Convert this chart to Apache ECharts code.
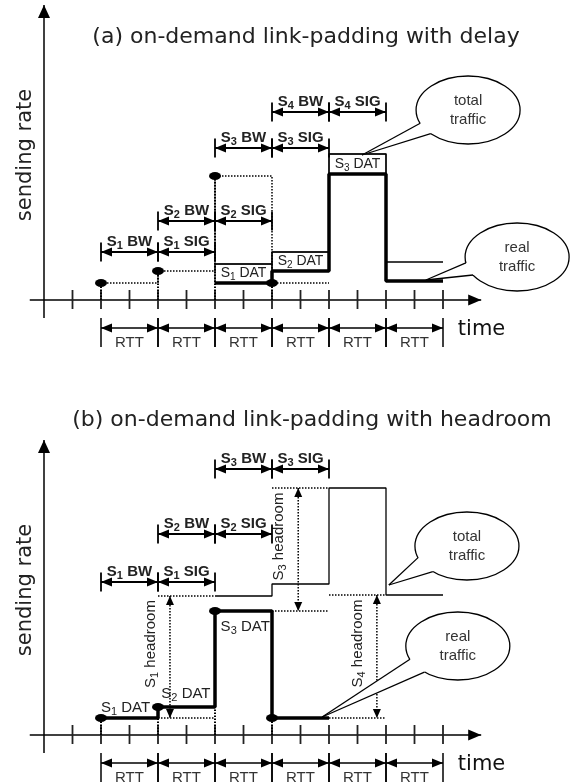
<!DOCTYPE html>
<html>
<head>
<meta charset="utf-8">
<title>On-demand link-padding</title>
<script src="https://cdn.jsdelivr.net/npm/echarts@6/dist/echarts.min.js"></script>
<style>html,body{margin:0;background:#fff}</style>
</head>
<body>
<div id="chart" style="width:575px;height:782px;"></div>
<script>
const FONT = 'Liberation Sans';
const BIG_FONT = '"DejaVu Sans"';

// time in RTT units, rate in arbitrary units (0 = time axis)
const tickT = [0.5, 1, 1.5, 2, 2.5, 3, 3.5, 4, 4.5, 5, 5.5, 6, 6.5, 7];
const rttT = [1, 2, 3, 4, 5, 6, 7];

// (a) link-padding with delay
const aReqT = [1, 2, 3, 4, 5];
const aReqRate = [1.7, 2.9, 12.4, 1.7, 1.7];
const aSendT = [3, 4, 5, 6, 7];
const aReal = [1.7, 2.9, 12.6, 1.9, 1.9];
const aTotal = [3.6, 4.8, 14.6, 3.8, 3.8];
const aDatNames = ['S1 DAT', 'S2 DAT', 'S3 DAT'];
const aPhaseNames = ['S1 BW', 'S1 SIG', 'S2 BW', 'S2 SIG', 'S3 BW', 'S3 SIG', 'S4 BW', 'S4 SIG'];
const aPhaseFrom = [1, 2, 2, 3, 3, 4, 4, 5];
const aPhaseTo = [2, 3, 3, 4, 4, 5, 5, 6];
const aPhaseLevel = [4.8, 4.8, 7.9, 7.9, 15.2, 15.2, 18.8, 18.8];

// (b) link-padding with headroom
const bSendT = [1, 2, 3, 4, 5];
const bReal = [1.7, 2.8, 12.4, 1.7, 1.7];
const bTotalT = [3, 4, 5, 6, 7];
const bTotal = [13.9, 15.1, 24.7, 14.0, 14.0];
const bDatNames = ['S1 DAT', 'S2 DAT', 'S3 DAT'];
const bPhaseNames = ['S1 BW', 'S1 SIG', 'S2 BW', 'S2 SIG', 'S3 BW', 'S3 SIG'];
const bPhaseFrom = [1, 2, 2, 3, 3, 4];
const bPhaseTo = [2, 3, 3, 4, 4, 5];
const bPhaseLevel = [15.3, 15.3, 20.1, 20.1, 26.6, 26.6];
const bHeadNames = ['S1 headroom', 'S3 headroom', 'S4 headroom'];
const bHeadFrom = [2, 4, 5];
const bHeadLow = [1.7, 12.4, 1.7];
const bHeadHigh = [13.9, 24.7, 14.0];
const bHeadAt = [2.21, 4.46, 5.84];

// callouts: ellipse centre (t, rate) and tip (t, rate)
const calloutNames = [['total', 'traffic'], ['real', 'traffic']];
const aCallouts = [[7.44, 19.0, 5.58, 14.5], [8.3, 4.3, 6.7, 2.0]];
const bCallouts = [[7.42, 18.9, 6.05, 15.0], [7.26, 8.9, 4.88, 1.8]];
// attachment angles of the tail on the ellipse (degrees)
const aCallAng = [[157, 136], [170, 148]];
const bCallAng = [[160, 131], [157, 130]];
// where the (b) DAT labels sit
const bDatAt = [[1, 2.7, 'left'], [2.49, 4.1, 'center'], [3.53, 10.8, 'center']];

const BLACK = '#000';
const dotted = {stroke: BLACK, lineWidth: 1.5, lineDash: [1.5, 1.5]};

function sub(label) {
  return label.replace(/^S(\d)(.*)$/, '{m|S}{s|$1}{m|$2}');
}
function rich(size, weight, color) {
  return {
    m: {fontSize: size, fontFamily: FONT, fontWeight: weight, color: color},
    s: {fontSize: size - 4, fontFamily: FONT, fontWeight: weight, color: color, padding: [8, 0, 0, 0]}
  };
}
function line(p, q, style) {
  return {type: 'line', shape: {x1: p[0], y1: p[1], x2: q[0], y2: q[1]}, style: style};
}
function head(from, to, len, half) {
  const dx = to[0] - from[0], dy = to[1] - from[1], d = Math.hypot(dx, dy) || 1;
  const ux = dx / d, uy = dy / d, bx = to[0] - ux * len, by = to[1] - uy * len;
  return {type: 'polygon', shape: {points: [[to[0], to[1]], [bx - uy * half, by + ux * half], [bx + uy * half, by - ux * half]]}, style: {fill: BLACK}};
}
function label(x, y, str, opts) {
  return {type: 'text', x: x, y: y, rotation: opts.rotation || 0, style: {
    text: str, fill: opts.color || '#222', fontSize: opts.size || 15, fontFamily: opts.family || FONT,
    fontWeight: opts.weight || 'normal', align: opts.align || 'center', verticalAlign: 'middle',
    rich: opts.rich
  }};
}
function custom(grid, data, draw, z) {
  return {
    type: 'custom', xAxisIndex: grid, yAxisIndex: grid, data: data, z: z || 3,
    silent: true, animation: false,
    renderItem: function (params, api) {
      return {type: 'group', children: draw(api, params.dataIndex)};
    }
  };
}

// axes with arrows, plus the "time" name
function drawAxes(api) {
  const xs = api.coord([-0.25, 0]), xe = api.coord([7.67, 0]);
  const yb = api.coord([0, -1.8]), yt = api.coord([0, 29.5]);
  const tl = api.coord([7.26, -3.0]);
  return [
    line(xs, xe, {stroke: BLACK, lineWidth: 1.5}), head(xs, xe, 13, 5.5),
    line(yb, yt, {stroke: BLACK, lineWidth: 1.5}), head(yb, yt, 13, 6),
    label(tl[0], tl[1], 'time', {size: 21, family: 'DejaVu Sans', align: 'left', color: '#111'})
  ];
}
function drawTick(api) {
  const t = api.value(0);
  return [line(api.coord([t, -0.9]), api.coord([t, 1.0]), {stroke: '#222', lineWidth: 1.8})];
}
function drawRtt(api) {
  const t0 = api.value(0), t1 = api.value(1);
  const p = api.coord([t0, -2.8]), q = api.coord([t1, -2.8]);
  const lb = api.coord([(t0 + t1) / 2, -4.3]);
  return [
    line(p, q, {stroke: BLACK, lineWidth: 1.5}), head(q, p, 11, 4.5), head(p, q, 11, 4.5),
    line(api.coord([t0, -1.8]), api.coord([t0, -4.7]), {stroke: BLACK, lineWidth: 1.5}),
    line(api.coord([t1, -1.8]), api.coord([t1, -4.7]), {stroke: BLACK, lineWidth: 1.5}),
    label(lb[0], lb[1], 'RTT', {size: 15, color: '#333'})
  ];
}
function phaseDrawer(names) {
  return function (api, i) {
    const lv = api.value(2);
    const p = api.coord([api.value(0), lv]), q = api.coord([api.value(1), lv]);
    return [
      line(p, q, {stroke: BLACK, lineWidth: 2}), head(q, p, 11, 4.5), head(p, q, 11, 4.5),
      line([p[0], p[1] - 9.5], [p[0], p[1] + 9.5], {stroke: BLACK, lineWidth: 1.8}),
      line([q[0], q[1] - 9.5], [q[0], q[1] + 9.5], {stroke: BLACK, lineWidth: 1.8}),
      label((p[0] + q[0]) / 2, p[1] - 10, sub(names[i]), {rich: rich(15, 'bold', '#111')})
    ];
  };
}
function drawABox(api, i) {
  const a = api.coord([api.value(0), api.value(3)]), b = api.coord([api.value(1), api.value(2)]);
  return [
    {type: 'rect', shape: {x: a[0], y: a[1], width: b[0] - a[0], height: b[1] - a[1]}, style: {fill: 'none', stroke: BLACK, lineWidth: 1.2}},
    label((a[0] + b[0]) / 2, (a[1] + b[1]) / 2, sub(aDatNames[i]), {rich: rich(14, 'normal', '#333')})
  ];
}
function drawBDat(api, i) {
  const p = api.coord([api.value(0), api.value(1)]);
  return [label(p[0], p[1], sub(bDatNames[i]), {align: bDatAt[i][2], rich: rich(15, 'normal', '#222')})];
}
function drawDrop(api) {
  const t = api.value(0);
  return [line(api.coord([t, 0]), api.coord([t, api.value(1)]), {stroke: BLACK, lineWidth: 2, lineDash: [1.5, 1.5]})];
}
function drawHeadroom(api, i) {
  const s = api.value(0), lo = api.value(1), hi = api.value(2), at = api.value(3);
  const top = api.coord([at, hi]), bot = api.coord([at, lo]);
  const mid = (top[1] + bot[1]) / 2;
  return [
    line(api.coord([s, hi]), api.coord([s + 1, hi]), dotted),
    line(api.coord([s, lo]), api.coord([s + 1, lo]), dotted),
    line(top, bot, dotted), head(bot, top, 9, 4), head(top, bot, 9, 4),
    label(top[0] - 19, mid - 13, sub(bHeadNames[i]), {rotation: Math.PI / 2, rich: rich(15, 'normal', '#222')})
  ];
}
function calloutDrawer(angles) {
  return function (api, i) {
    const c = api.coord([api.value(0), api.value(1)]), tip = api.coord([api.value(2), api.value(3)]);
    const rx = 52, ry = 34;
    const at = angles[i].map(function (deg) {
      const r = deg * Math.PI / 180;
      return [c[0] + rx * Math.cos(r), c[1] + ry * Math.sin(r)];
    });
    return [
      {type: 'ellipse', shape: {cx: c[0], cy: c[1], rx: rx, ry: ry}, style: {fill: '#fff', stroke: BLACK, lineWidth: 1.3}},
      {type: 'polygon', shape: {points: [tip, at[0], [c[0] - 20, c[1] + 8], at[1]]}, style: {fill: '#fff'}},
      line(tip, at[0], {stroke: BLACK, lineWidth: 1.3}),
      line(tip, at[1], {stroke: BLACK, lineWidth: 1.3}),
      label(c[0], c[1] - 9, calloutNames[i][0], {size: 15, color: '#333'}),
      label(c[0], c[1] + 10, calloutNames[i][1], {size: 15, color: '#333'})
    ];
  };
}
function stepLine(grid, ts, vs, width, dash, z) {
  return {
    type: 'line', xAxisIndex: grid, yAxisIndex: grid, step: 'end', showSymbol: false,
    silent: true, animation: false, z: z,
    data: ts.map(function (t, i) { return [t, vs[i]]; }),
    lineStyle: {color: BLACK, width: width, type: dash ? [1.5, 1.5] : 'solid', cap: 'butt'}
  };
}
function dots(grid, ts, vs) {
  return {
    type: 'scatter', xAxisIndex: grid, yAxisIndex: grid, symbol: 'circle', symbolSize: [12, 8],
    itemStyle: {color: BLACK, opacity: 1}, silent: true, animation: false, z: 6,
    data: ts.map(function (t, i) { return [t, vs[i]]; })
  };
}

// both grids keep 10 px per rate unit; (b) must stay inside the 782 px canvas
const axisX = {type: 'value', min: -0.5, max: 8, show: false};

const series = [
  // (a)
  custom(0, [[0, 0]], drawAxes, 2),
  custom(0, tickT.map(function (t) { return [t, 0]; }), drawTick, 2),
  custom(0, rttT.slice(0, -1).map(function (t, i) { return [t, rttT[i + 1]]; }), drawRtt, 2),
  custom(0, aReqT.slice(0, 4).map(function (t, i) { return [t, aReqRate[i]]; }), drawDrop, 2),
  stepLine(0, aReqT, aReqRate, 1.5, true, 2),
  stepLine(0, aSendT, aTotal, 1.3, false, 3),
  custom(0, aDatNames.map(function (n, i) { return [aSendT[i], aSendT[i + 1], aReal[i], aTotal[i]]; }), drawABox, 3),
  stepLine(0, aSendT, aReal, 3.5, false, 4),
  dots(0, aReqT.slice(0, 4), aReqRate),
  custom(0, aPhaseNames.map(function (n, i) { return [aPhaseFrom[i], aPhaseTo[i], aPhaseLevel[i]]; }), phaseDrawer(aPhaseNames), 4),
  custom(0, aCallouts, calloutDrawer(aCallAng), 7),
  // (b)
  custom(1, [[0, 0]], drawAxes, 2),
  custom(1, tickT.map(function (t) { return [t, 0]; }), drawTick, 2),
  custom(1, rttT.slice(0, -1).map(function (t, i) { return [t, rttT[i + 1]]; }), drawRtt, 2),
  custom(1, bSendT.slice(0, 4).map(function (t, i) { return [t, bReal[i]]; }), drawDrop, 2),
  stepLine(1, bTotalT, bTotal, 1.3, false, 3),
  stepLine(1, bSendT, bReal, 3.5, false, 4),
  dots(1, bSendT.slice(0, 4), bReal),
  custom(1, bHeadNames.map(function (n, i) { return [bHeadFrom[i], bHeadLow[i], bHeadHigh[i], bHeadAt[i]]; }), drawHeadroom, 3),
  custom(1, bDatNames.map(function (n, i) { return [bDatAt[i][0], bDatAt[i][1]]; }), drawBDat, 5),
  custom(1, bPhaseNames.map(function (n, i) { return [bPhaseFrom[i], bPhaseTo[i], bPhaseLevel[i]]; }), phaseDrawer(bPhaseNames), 4),
  custom(1, bCallouts, calloutDrawer(bCallAng), 7)
];

const chart = echarts.init(document.getElementById('chart'));
chart.setOption({
  animation: false,
  backgroundColor: '#fff',
  grid: [
    {left: 15.5, top: 0, width: 484.5, height: 360},
    {left: 15.5, top: 435, width: 484.5, height: 347}
  ],
  xAxis: [Object.assign({gridIndex: 0}, axisX), Object.assign({gridIndex: 1}, axisX)],
  yAxis: [
    {gridIndex: 0, type: 'value', min: -6, max: 30, show: false},
    {gridIndex: 1, type: 'value', min: -4.7, max: 30, show: false}
  ],
  graphic: [
    {type: 'text', x: 306, y: 37, style: {text: '(a) on-demand link-padding with delay', font: '22px ' + BIG_FONT, fill: '#222', align: 'center', verticalAlign: 'middle'}},
    {type: 'text', x: 312, y: 420, style: {text: '(b) on-demand link-padding with headroom', font: '22px ' + BIG_FONT, fill: '#222', align: 'center', verticalAlign: 'middle'}},
    {type: 'text', x: 26, y: 155, rotation: Math.PI / 2, style: {text: 'sending rate', font: '21px ' + BIG_FONT, fill: '#222', align: 'center', verticalAlign: 'middle'}},
    {type: 'text', x: 26, y: 590, rotation: Math.PI / 2, style: {text: 'sending rate', font: '21px ' + BIG_FONT, fill: '#222', align: 'center', verticalAlign: 'middle'}}
  ],
  series: series
});
</script>
</body>
</html>
